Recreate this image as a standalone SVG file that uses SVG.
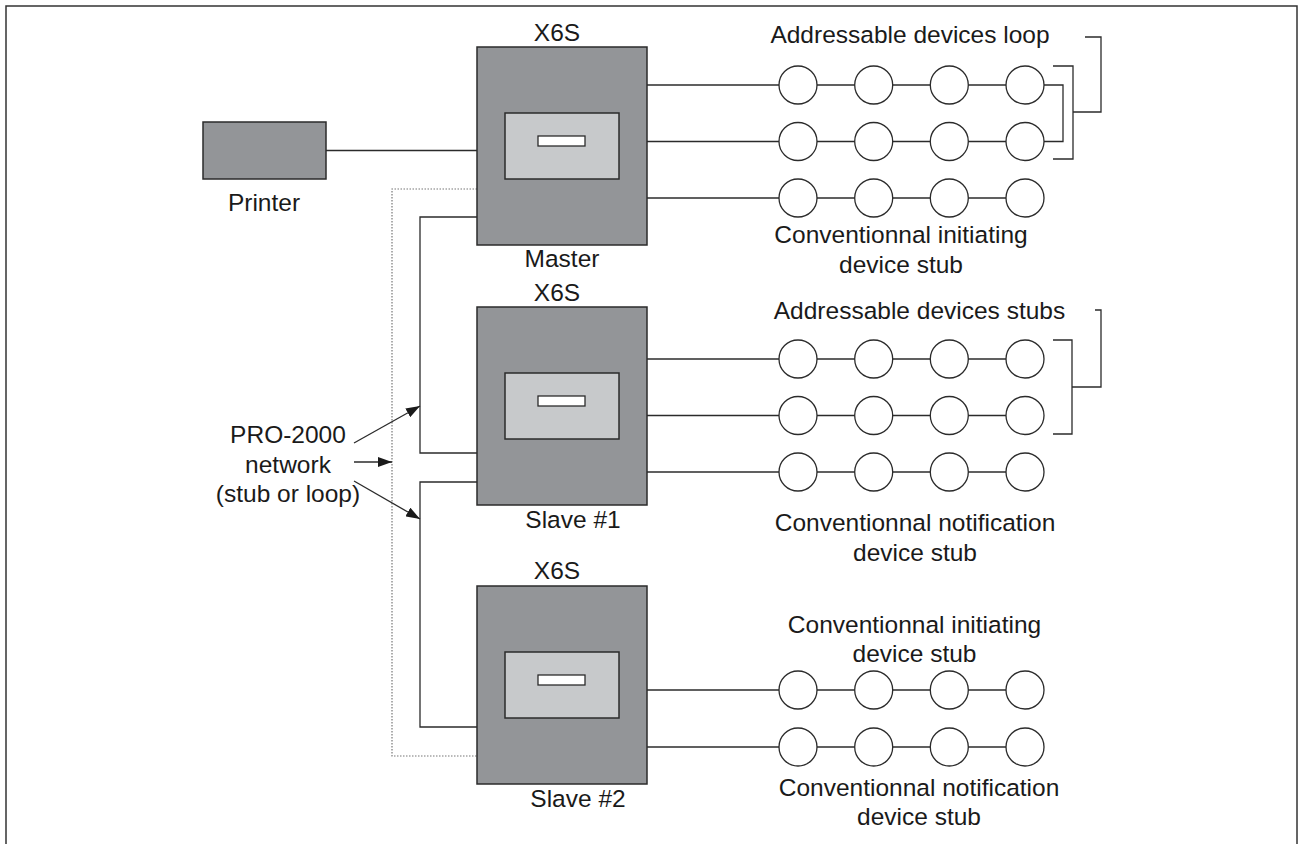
<svg xmlns="http://www.w3.org/2000/svg" width="1299" height="844" viewBox="0 0 1299 844">
<defs>
<style>
.t{font-family:"Liberation Sans",Arial,sans-serif;font-size:24.5px;fill:#1a1a1a;text-anchor:middle}
.box{fill:#939598;stroke:#2b2b2b;stroke-width:1.5}
.disp{fill:#c7c9cb;stroke:#2b2b2b;stroke-width:1.5}
.slot{fill:#fff;stroke:#2b2b2b;stroke-width:1.3}
.ln{fill:none;stroke:#2b2b2b;stroke-width:1.3}
.dot{fill:none;stroke:#777;stroke-width:1.2;stroke-dasharray:1.5 1.5}
.dev{fill:#fff;stroke:#2b2b2b;stroke-width:1.3}
</style>
<marker id="ah" viewBox="0 0 14 10" refX="14" refY="5" markerWidth="14" markerHeight="10" markerUnits="userSpaceOnUse" orient="auto">
<path d="M0,0 L14,5 L0,10 Z" fill="#1a1a1a"/>
</marker>
</defs>
<rect x="6" y="6" width="1291" height="850" fill="none" stroke="#333" stroke-width="1.5"/>

<g id="connectors">
<line class="ln" x1="326" y1="150.5" x2="477" y2="150.5"/>
<polyline class="ln" points="477,217 420,217 420,453 477,453"/>
<polyline class="ln" points="477,482 420,482 420,727 477,727"/>
<polyline class="dot" points="477,189 392,189 392,756 477,756"/>
<line class="ln" x1="354" y1="443" x2="420" y2="406" marker-end="url(#ah)"/>
<line class="ln" x1="354" y1="462" x2="392" y2="462" marker-end="url(#ah)"/>
<line class="ln" x1="354" y1="481" x2="420" y2="519" marker-end="url(#ah)"/>
<!-- master rows -->
<line class="ln" x1="647" y1="85" x2="1025" y2="85"/>
<line class="ln" x1="647" y1="141.5" x2="1025" y2="141.5"/>
<line class="ln" x1="647" y1="198" x2="1025" y2="198"/>
<polyline class="ln" points="1044,85 1063,85 1063,141.5 1044,141.5"/>
<polyline class="ln" points="1053,66 1073,66 1073,159 1053,159"/>
<polyline class="ln" points="1073,112 1101,112 1101,37 1085,37"/>
<!-- slave1 rows -->
<line class="ln" x1="647" y1="359" x2="1025" y2="359"/>
<line class="ln" x1="647" y1="415.5" x2="1025" y2="415.5"/>
<line class="ln" x1="647" y1="472" x2="1025" y2="472"/>
<polyline class="ln" points="1053,340 1072,340 1072,434 1053,434"/>
<polyline class="ln" points="1072,387 1101,387 1101,310 1095,310"/>
<!-- slave2 rows -->
<line class="ln" x1="647" y1="690" x2="1025" y2="690"/>
<line class="ln" x1="647" y1="747" x2="1025" y2="747"/>
</g>

<g id="printer">
<rect class="box" x="203" y="122" width="123" height="57"/>
<text class="t" x="264" y="211">Printer</text>
</g>

<g id="master">
<text class="t" x="557" y="40.5">X6S</text>
<rect class="box" x="477" y="47" width="170" height="198"/>
<rect class="disp" x="505" y="113" width="114" height="66"/>
<rect class="slot" x="538" y="136" width="47" height="10"/>
<text class="t" x="562" y="266.5">Master</text>
</g>

<g id="slave1">
<text class="t" x="557" y="300.5">X6S</text>
<rect class="box" x="477" y="307" width="170" height="198"/>
<rect class="disp" x="505" y="373" width="114" height="66"/>
<rect class="slot" x="538" y="396" width="47" height="10"/>
<text class="t" x="573" y="528">Slave #1</text>
</g>

<g id="slave2">
<text class="t" x="557" y="579">X6S</text>
<rect class="box" x="477" y="586" width="170" height="198"/>
<rect class="disp" x="505" y="652" width="114" height="66"/>
<rect class="slot" x="538" y="675" width="47" height="10"/>
<text class="t" x="578" y="807">Slave #2</text>
</g>

<g id="network-label">
<text class="t" x="288" y="443">PRO-2000</text>
<text class="t" x="288" y="473">network</text>
<text class="t" x="288" y="502">(stub or loop)</text>
</g>

<g id="master-devices">
<text class="t" x="910" y="43">Addressable devices loop</text>
<circle class="dev" cx="798" cy="85" r="19"/><circle class="dev" cx="873.7" cy="85" r="19"/><circle class="dev" cx="949.3" cy="85" r="19"/><circle class="dev" cx="1025" cy="85" r="19"/>
<circle class="dev" cx="798" cy="141.5" r="19"/><circle class="dev" cx="873.7" cy="141.5" r="19"/><circle class="dev" cx="949.3" cy="141.5" r="19"/><circle class="dev" cx="1025" cy="141.5" r="19"/>
<circle class="dev" cx="798" cy="198" r="19"/><circle class="dev" cx="873.7" cy="198" r="19"/><circle class="dev" cx="949.3" cy="198" r="19"/><circle class="dev" cx="1025" cy="198" r="19"/>
<text class="t" x="901" y="243">Conventionnal initiating</text>
<text class="t" x="901" y="272.5">device stub</text>
</g>

<g id="slave1-devices">
<text class="t" x="919.5" y="319">Addressable devices stubs</text>
<circle class="dev" cx="798" cy="359" r="19"/><circle class="dev" cx="873.7" cy="359" r="19"/><circle class="dev" cx="949.3" cy="359" r="19"/><circle class="dev" cx="1025" cy="359" r="19"/>
<circle class="dev" cx="798" cy="415.5" r="19"/><circle class="dev" cx="873.7" cy="415.5" r="19"/><circle class="dev" cx="949.3" cy="415.5" r="19"/><circle class="dev" cx="1025" cy="415.5" r="19"/>
<circle class="dev" cx="798" cy="472" r="19"/><circle class="dev" cx="873.7" cy="472" r="19"/><circle class="dev" cx="949.3" cy="472" r="19"/><circle class="dev" cx="1025" cy="472" r="19"/>
<text class="t" x="915" y="530.5">Conventionnal notification</text>
<text class="t" x="915" y="560.5">device stub</text>
</g>

<g id="slave2-devices">
<text class="t" x="914.5" y="633">Conventionnal initiating</text>
<text class="t" x="914.5" y="661.5">device stub</text>
<circle class="dev" cx="798" cy="690" r="19"/><circle class="dev" cx="873.7" cy="690" r="19"/><circle class="dev" cx="949.3" cy="690" r="19"/><circle class="dev" cx="1025" cy="690" r="19"/>
<circle class="dev" cx="798" cy="747" r="19"/><circle class="dev" cx="873.7" cy="747" r="19"/><circle class="dev" cx="949.3" cy="747" r="19"/><circle class="dev" cx="1025" cy="747" r="19"/>
<text class="t" x="919" y="795.5">Conventionnal notification</text>
<text class="t" x="919" y="825">device stub</text>
</g>
</svg>
